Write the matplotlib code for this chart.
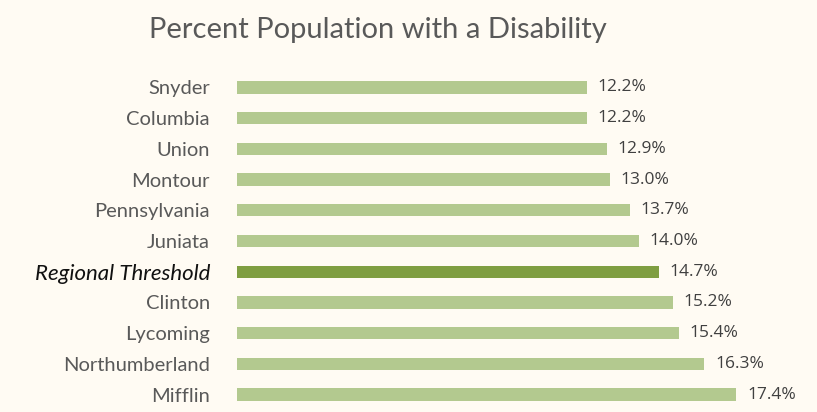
import matplotlib
matplotlib.use("Agg")
import matplotlib.pyplot as plt

categories = ["Snyder", "Columbia", "Union", "Montour", "Pennsylvania", "Juniata",
              "Regional Threshold", "Clinton", "Lycoming", "Northumberland", "Mifflin"]
values = [12.2, 12.2, 12.9, 13.0, 13.7, 14.0, 14.7, 15.2, 15.4, 16.3, 17.4]
highlight = "Regional Threshold"

bg = "#fffbf3"
light_green = "#b3c98f"
dark_green = "#7f9e41"

fig = plt.figure(figsize=(8.17, 4.12), dpi=100, facecolor=bg)
ax = fig.add_axes([237 / 817, 1 - 410 / 412, (790 - 237) / 817, (410 - 72) / 412])
ax.set_facecolor(bg)

ypos = list(range(len(categories)))
colors = [dark_green if c == highlight else light_green for c in categories]
ax.barh(ypos, values, height=0.4, color=colors)
ax.set_ylim(len(categories) - 0.5, -0.5)
ax.set_xlim(0, 553 / 28.68)

for y, v in zip(ypos, values):
    ax.text(v + 0.38, y, f"{v:.1f}%", va="center", ha="left",
            fontsize=12.5, color="#404040", family="Open Sans")

ax.set_yticks(ypos)
ax.set_yticklabels(categories)
for lbl, c in zip(ax.get_yticklabels(), categories):
    lbl.set_family("Lato")
    lbl.set_fontsize(14.5)
    if c == highlight:
        lbl.set_style("italic")
        lbl.set_fontsize(16)
        lbl.set_color("#111111")
    else:
        lbl.set_color("#595959")
ax.tick_params(axis="y", length=0, pad=19.5)
ax.set_xticks([])
for s in ax.spines.values():
    s.set_visible(False)

fig.text(378 / 817, 1 - 30 / 412, "Percent Population with a Disability",
         ha="center", va="center", fontsize=21, color="#595959", family="Lato")

fig.savefig("out.png", dpi=100, facecolor=bg)
